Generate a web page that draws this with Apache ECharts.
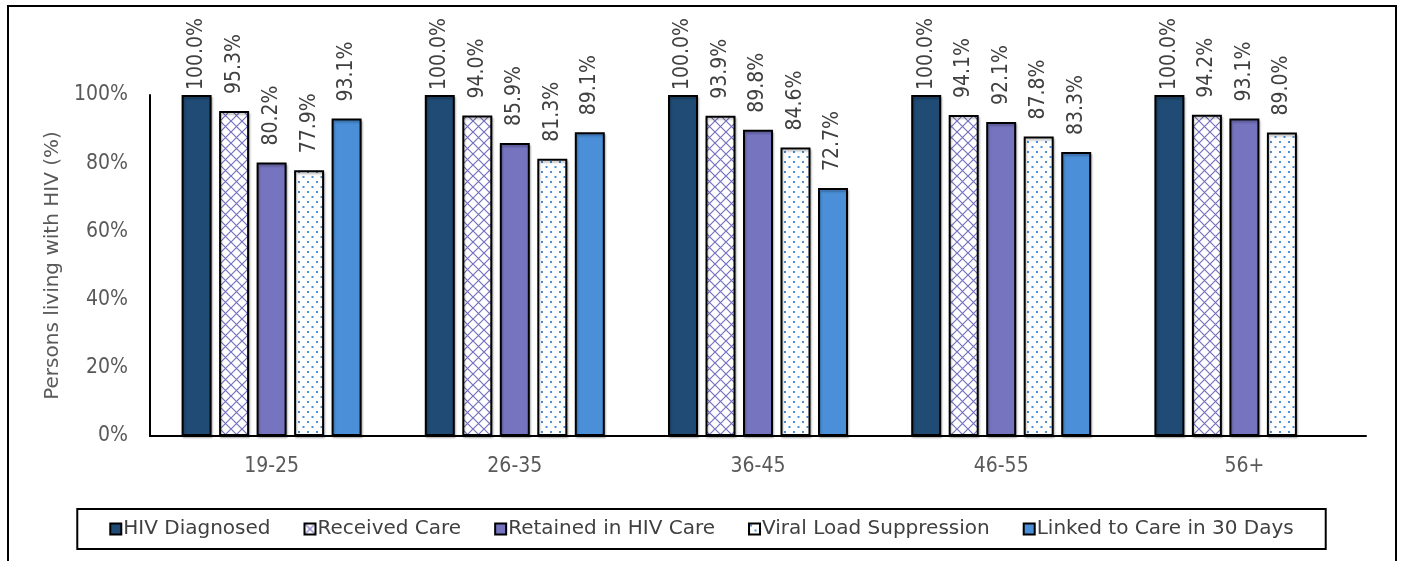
<!DOCTYPE html>
<html>
<head>
<meta charset="utf-8">
<script src="https://cdn.jsdelivr.net/npm/echarts@6/dist/echarts.min.js"></script>
<style>
  html, body { margin: 0; padding: 0; background: #ffffff; }
  #chart { width: 1403px; height: 561px; }
</style>
</head>
<body>
<div id="chart"></div>
<script>
// Age groups on the x axis
const ageGroups = ['19-25', '26-35', '36-45', '46-55', '56+'];

// Care continuum stages, percent of persons living with HIV
const hivDiagnosed   = [100.0, 100.0, 100.0, 100.0, 100.0];
const receivedCare   = [95.3, 94.0, 93.9, 94.1, 94.2];
const retainedInCare = [80.2, 85.9, 89.8, 92.1, 93.1];
const viralSuppressed = [77.9, 81.3, 84.6, 87.8, 89.0];
const linkedIn30Days = [93.1, 89.1, 72.7, 83.3, null];

const yTicks = [0, 20, 40, 60, 80, 100];

const FONT_C = '"DejaVu Sans Condensed", "DejaVu Sans", sans-serif';
const FONT = '"DejaVu Sans", sans-serif';

// Diamond lattice fill (white background, purple diagonal lines)
function crossHatch() {
  const s = 11;
  const c = document.createElement('canvas');
  c.width = s; c.height = s;
  const g = c.getContext('2d');
  g.fillStyle = '#ffffff';
  g.fillRect(0, 0, s, s);
  g.strokeStyle = '#7471bf';
  g.lineWidth = 1.2;
  g.beginPath();
  g.moveTo(0, 0); g.lineTo(s, s);
  g.moveTo(s, 0); g.lineTo(0, s);
  g.stroke();
  return c;
}

// Staggered blue dot fill on white
function dotFill() {
  const c = document.createElement('canvas');
  c.width = 9; c.height = 10;
  const g = c.getContext('2d');
  g.fillStyle = '#ffffff';
  g.fillRect(0, 0, 9, 10);
  g.fillStyle = '#4a8fd8';
  g.fillRect(1, 1, 2, 2);
  g.fillRect(5.5, 6, 2, 2);
  return c;
}

// Rotated value labels end at a fixed height above each bar
const labelStyle = {
  show: true,
  position: 'top',
  rotate: 90,
  align: 'right',
  verticalAlign: 'middle',
  distance: 77,
  fontFamily: FONT_C,
  fontSize: 21,
  color: '#404040',
  formatter: p => p.value.toFixed(1) + '%'
};

function makeSeries(name, data, fill) {
  return {
    name: name,
    type: 'bar',
    data: data,
    barWidth: 30,
    barGap: '25%',
    itemStyle: {
      color: fill,
      borderColor: '#000000',
      borderWidth: 2,
      shadowColor: 'rgba(0,0,0,0.25)',
      shadowBlur: 2,
      shadowOffsetX: 1,
      shadowOffsetY: 2
    },
    label: labelStyle,
    emphasis: { disabled: true }
  };
}

const chart = echarts.init(document.getElementById('chart'), null, { renderer: 'canvas' });

chart.setOption({
  animation: false,
  backgroundColor: '#ffffff',
  graphic: [{
    type: 'rect',
    shape: { x: 8, y: 6, width: 1388, height: 570 },
    style: { fill: 'none', stroke: '#000000', lineWidth: 2 },
    silent: true,
    z: -1
  }],
  grid: { left: 150, right: 37, top: 95, bottom: 125 },
  legend: {
    bottom: 12,
    left: 'center',
    icon: 'rect',
    itemWidth: 11,
    itemHeight: 11,
    itemGap: 33,
    padding: [10, 32, 10, 32],
    borderColor: '#000000',
    borderWidth: 2,
    textStyle: { fontFamily: FONT, fontSize: 20, color: '#404040', padding: [0, 0, 0, -3] },
    data: ['HIV Diagnosed', 'Received Care', 'Retained in HIV Care', 'Viral Load Suppression', 'Linked to Care in 30 Days']
  },
  xAxis: {
    type: 'category',
    data: ageGroups,
    axisLine: { lineStyle: { color: '#000000', width: 2 } },
    axisTick: { show: false },
    axisLabel: { fontFamily: FONT_C, fontSize: 21, color: '#595959', margin: 20 }
  },
  yAxis: {
    type: 'value',
    min: yTicks[0],
    max: yTicks[yTicks.length - 1],
    interval: yTicks[1] - yTicks[0],
    name: 'Persons living with HIV (%)',
    nameLocation: 'middle',
    nameGap: 84,
    nameTextStyle: { fontFamily: FONT, fontSize: 20, color: '#595959' },
    axisLine: { show: true, lineStyle: { color: '#000000', width: 2 } },
    axisTick: { show: false },
    splitLine: { show: false },
    axisLabel: { fontFamily: FONT_C, fontSize: 21, color: '#595959', margin: 22, formatter: '{value}%' }
  },
  series: [
    makeSeries('HIV Diagnosed', hivDiagnosed, '#1f4b74'),
    makeSeries('Received Care', receivedCare, { image: crossHatch(), repeat: 'repeat' }),
    makeSeries('Retained in HIV Care', retainedInCare, '#7674bf'),
    makeSeries('Viral Load Suppression', viralSuppressed, { image: dotFill(), repeat: 'repeat' }),
    makeSeries('Linked to Care in 30 Days', linkedIn30Days, '#4a8fd8')
  ]
});
</script>
</body>
</html>
